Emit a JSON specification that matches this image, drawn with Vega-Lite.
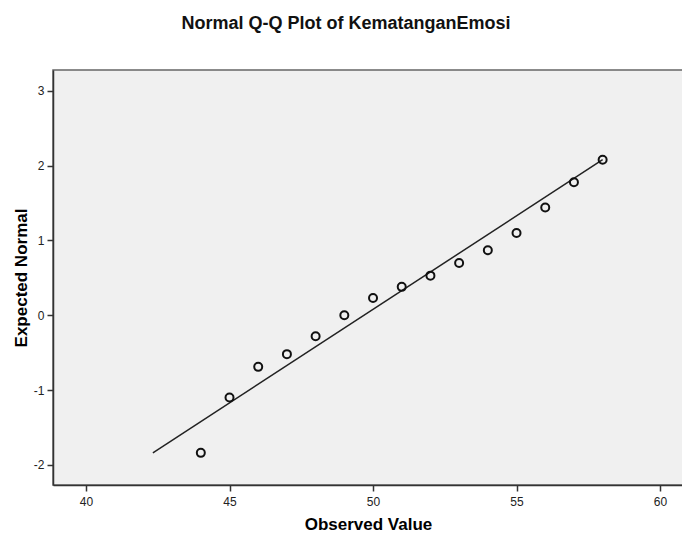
{
  "$schema": "https://vega.github.io/schema/vega-lite/v6.json",
  "width": 630,
  "height": 415,
  "autosize": {"type": "none"},
  "padding": {"left": 53, "top": 70, "right": 0, "bottom": 56},
  "background": "white",
  "title": {
    "text": "Normal Q-Q Plot of KematanganEmosi",
    "font": "Liberation Sans",
    "fontSize": 18,
    "fontWeight": "bold",
    "color": "#111111",
    "anchor": "middle",
    "dx": -22,
    "offset": 37
  },
  "config": {
    "view": {"fill": "#f0f0f0", "stroke": "#666666", "strokeWidth": 1.5},
    "axis": {
      "labelFont": "Liberation Sans",
      "labelFontSize": 12,
      "labelColor": "#222222",
      "titleFont": "Liberation Sans",
      "titleFontSize": 17,
      "titleFontWeight": "bold",
      "titleColor": "#000000",
      "domainColor": "#333333",
      "domainWidth": 1.5,
      "tickColor": "#333333",
      "tickWidth": 1.5,
      "tickSize": 6,
      "grid": false
    }
  },
  "datasets": {
    "points": [
      {"observed": 44, "expected": -1.84},
      {"observed": 45, "expected": -1.10},
      {"observed": 46, "expected": -0.69},
      {"observed": 47, "expected": -0.52},
      {"observed": 48, "expected": -0.28},
      {"observed": 49, "expected": 0.0},
      {"observed": 50, "expected": 0.23},
      {"observed": 51, "expected": 0.38},
      {"observed": 52, "expected": 0.53},
      {"observed": 53, "expected": 0.70},
      {"observed": 54, "expected": 0.87},
      {"observed": 55, "expected": 1.10},
      {"observed": 56, "expected": 1.44},
      {"observed": 57, "expected": 1.78},
      {"observed": 58, "expected": 2.08}
    ],
    "line": [
      {"observed": 42.33, "expected": -1.84},
      {"observed": 58.0, "expected": 2.08}
    ]
  },
  "layer": [
    {
      "data": {"name": "line"},
      "mark": {"type": "line", "color": "#222222", "strokeWidth": 1.5},
      "encoding": {
        "x": {"field": "observed", "type": "quantitative", "scale": {"domain": [38.85, 60.8], "nice": false, "zero": false},
              "axis": {"title": "Observed Value", "values": [40, 45, 50, 55, 60], "labelExpr": "'' + datum.value", "labelPadding": 5, "titlePadding": 9}},
        "y": {"field": "expected", "type": "quantitative", "scale": {"domain": [-2.27, 3.28], "nice": false, "zero": false},
              "axis": {"title": "Expected Normal", "values": [-2, -1, 0, 1, 2, 3], "labelExpr": "'' + datum.value", "labelPadding": 3, "titlePadding": 3}}
      }
    },
    {
      "data": {"name": "points"},
      "mark": {"type": "point", "shape": "circle", "filled": false, "color": "#111111", "strokeWidth": 2, "size": 64, "opacity": 1},
      "encoding": {
        "x": {"field": "observed", "type": "quantitative"},
        "y": {"field": "expected", "type": "quantitative"}
      }
    }
  ]
}
